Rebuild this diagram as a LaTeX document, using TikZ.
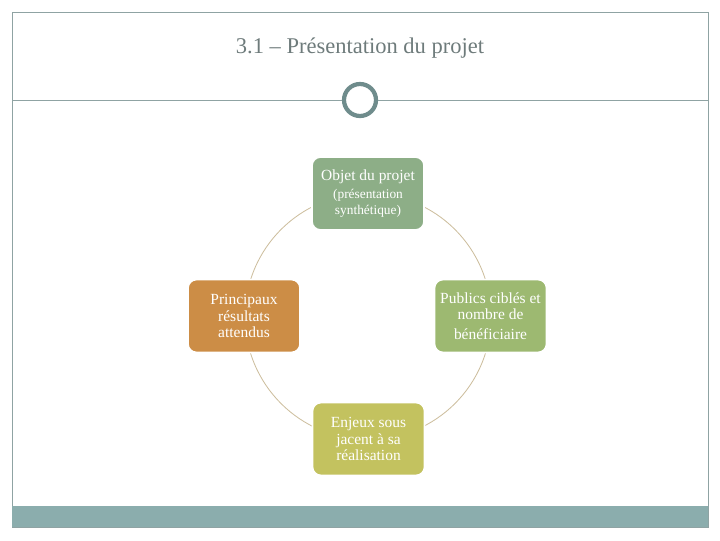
\documentclass[tikz,border=0pt]{standalone}
\usepackage{fontspec}
\setmainfont{Liberation Serif}
\definecolor{frame}{HTML}{8FA3A3}
\definecolor{band}{HTML}{8BADAD}
\definecolor{ring}{HTML}{6F8C8C}
\definecolor{titlegray}{HTML}{6E7B7B}
\definecolor{cycleline}{HTML}{CDBE9E}
\definecolor{objet}{HTML}{8DAE87}
\definecolor{publics}{HTML}{9DB971}
\definecolor{enjeux}{HTML}{C3C25F}
\definecolor{resultats}{HTML}{CC8D46}
\tikzset{
  stepbox/.style={rounded corners=6pt,draw=white,line width=1.2pt,text=white,
    minimum width=2.8cm,minimum height=1.82cm,align=center,inner sep=2pt,
    font=\fontsize{11}{11.5}\selectfont}
}

\begin{document}
\begin{tikzpicture}[x=0.025cm,y=-0.025cm]
\useasboundingbox (0,0) rectangle (720,540);
% slide frame
\draw[frame,line width=0.6pt] (12,12) rectangle (708,527);
\fill[band] (12,506) rectangle (708,527);
\draw[frame,line width=0.6pt] (12,527) -- (708,527);
% title and rule
\node[text=titlegray,font=\fontsize{16}{18}\selectfont] (titre) at (360,48) {3.1 -- Présentation du projet};
\coordinate (rl) at (12,100);
\coordinate (rr) at (708,100);
\node[circle,draw=ring,line width=3pt,fill=white,minimum size=0.8cm] (anneau) at (360,100) {};
\draw[frame,line width=0.6pt] (rl) -- (anneau.west);
\draw[frame,line width=0.6pt] (anneau.east) -- (rr);
% cycle
\coordinate (centre) at (368,316.5);
\draw[cycleline,line width=0.6pt] (centre) circle (3.075cm);
\node[stepbox,fill=objet] (objet) at (368,193.5) {Objet du projet\\[1pt]{\fontsize{9.5}{10}\selectfont (présentation}\\{\fontsize{9.5}{10}\selectfont synthétique)}};
\node[stepbox,fill=publics] (publics) at (490.5,316) {Publics ciblés et\\nombre de\\[3pt]bénéficiaire};
\node[stepbox,fill=enjeux] (enjeux) at (368.5,439) {Enjeux sous\\jacent à sa\\réalisation};
\node[stepbox,fill=resultats] (resultats) at (244,316) {Principaux\\résultats\\attendus};
\end{tikzpicture}
\end{document}
